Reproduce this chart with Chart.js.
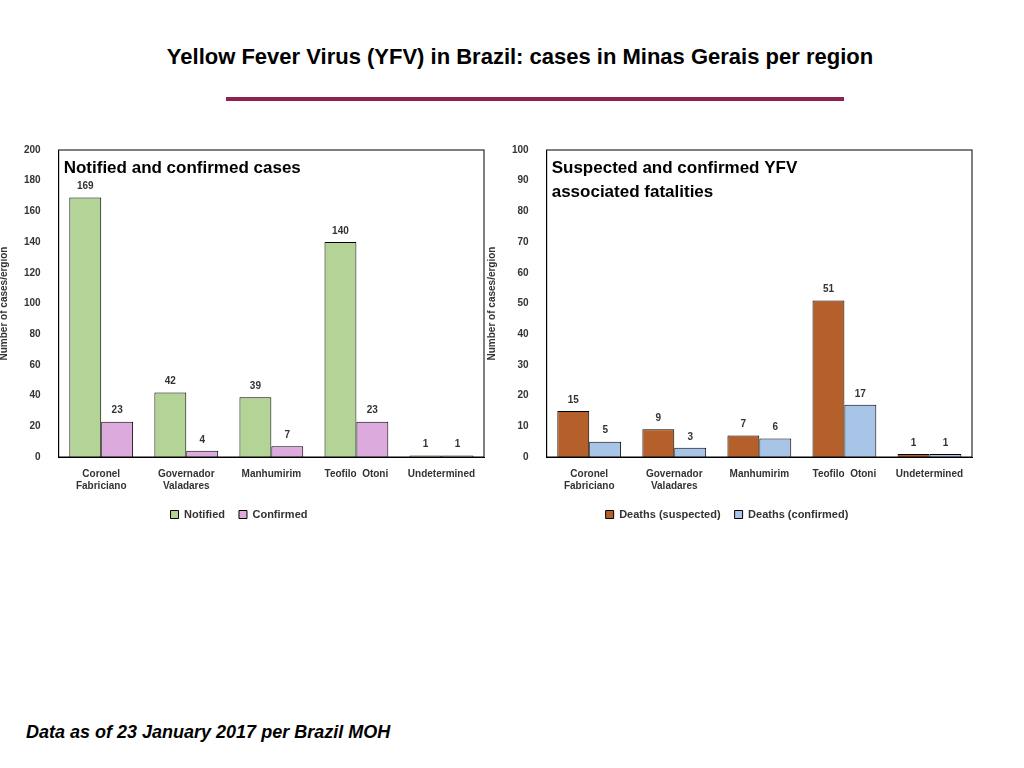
<!DOCTYPE html>
<html><head><meta charset="utf-8">
<script src="https://cdn.jsdelivr.net/npm/chart.js@4/dist/chart.umd.min.js"></script>
<style>
body{margin:0;width:1024px;height:768px;background:#fff;font-family:Arial,"Liberation Sans",sans-serif;position:relative;overflow:hidden}
#title{position:absolute;top:44px;left:0;width:1040px;text-align:center;font-weight:bold;font-size:22px;color:#000}
#rule{position:absolute;top:97px;left:226px;width:618px;height:4px;background:#8b2252}
.box{position:absolute;top:134px;width:496px;height:396px}
#foot{position:absolute;top:722px;left:26px;font-weight:bold;font-style:italic;font-size:18px}
</style></head><body>
<div id="title">Yellow Fever Virus (YFV) in Brazil: cases in Minas Gerais per region</div>
<div id="rule"></div>
<div class="box" style="left:-6px"><canvas id="c1"></canvas></div>
<div class="box" style="left:482px"><canvas id="c2"></canvas></div>
<div id="foot">Data as of 23 January 2017 per Brazil MOH</div>
<script>
const regions = [['Coronel', 'Fabriciano'], ['Governador', 'Valadares'], 'Manhumirim', 'Teofilo  Otoni', 'Undetermined'];
const notified = [169, 42, 39, 140, 1];
const confirmed = [23, 4, 7, 23, 1];
const deathsSuspected = [15, 9, 7, 51, 1];
const deathsConfirmed = [5, 3, 6, 17, 1];

Chart.defaults.font.family = 'Arial, "Liberation Sans", sans-serif';
Chart.defaults.color = '#333';

const decor = {
  id: 'decor',
  afterDatasetsDraw(chart, args, opts) {
    const {ctx, chartArea: a} = chart;
    ctx.save();
    ctx.strokeStyle = '#000';
    ctx.lineWidth = 1;
    ctx.strokeRect(a.left, a.top, a.right - a.left, a.bottom - a.top);
    ctx.fillStyle = '#000';
    ctx.font = 'bold 17px Arial, "Liberation Sans", sans-serif';
    ctx.textBaseline = 'top';
    opts.lines.forEach((t, i) => ctx.fillText(t, a.left + 5, a.top + 10 + i * 24));
    ctx.font = 'bold 10px Arial, "Liberation Sans", sans-serif';
    ctx.fillStyle = '#333';
    ctx.textAlign = 'center';
    ctx.textBaseline = 'bottom';
    chart.data.datasets.forEach((ds, di) => {
      chart.getDatasetMeta(di).data.forEach((bar, i) => {
        ctx.fillText(ds.data[i], bar.x, bar.y - 6);
      });
    });
    ctx.restore();
  }
};

function makeChart(id, a, b, la, lb, ca, cb, max, step, lines) {
  new Chart(document.getElementById(id), {
    type: 'bar',
    data: {
      labels: regions,
      datasets: [
        {label: la, data: a, backgroundColor: ca, borderColor: '#000', borderWidth: 1},
        {label: lb, data: b, backgroundColor: cb, borderColor: '#000', borderWidth: 1}
      ]
    },
    options: {
      responsive: true,
      maintainAspectRatio: false,
      animation: false,
      categoryPercentage: 0.75,
      barPercentage: 1,
      layout: {padding: {right: 6, top: 10}},
      plugins: {
        legend: {
          position: 'bottom',
          labels: {boxWidth: 8, boxHeight: 8, padding: 14, font: {size: 11, weight: 'bold'}, color: '#333'}
        },
        tooltip: {enabled: false},
        decor: {lines}
      },
      scales: {
        x: {
          grid: {display: false},
          border: {color: '#000'},
          ticks: {font: {size: 10, weight: 'bold'}, color: '#333', maxRotation: 0}
        },
        y: {
          min: 0, max,
          grid: {display: false},
          border: {color: '#000'},
          ticks: {stepSize: step, font: {size: 10, weight: 'bold'}, color: '#333', padding: 10},
          title: {display: true, text: 'Number of cases/ergion', font: {size: 10, weight: 'bold'}, color: '#333'}
        }
      }
    },
    plugins: [decor]
  });
}

makeChart('c1', notified, confirmed, 'Notified', 'Confirmed', '#b3d397', '#dcaadc', 200, 20, ['Notified and confirmed cases']);
makeChart('c2', deathsSuspected, deathsConfirmed, 'Deaths (suspected)', 'Deaths (confirmed)', '#b5602b', '#a8c4e6', 100, 10, ['Suspected and confirmed YFV', 'associated fatalities']);
</script>
</body></html>
